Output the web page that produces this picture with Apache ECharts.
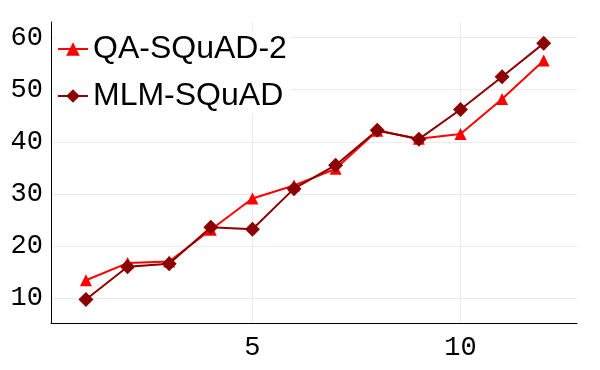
<!DOCTYPE html>
<html>
<head>
<meta charset="utf-8">
<script src="https://cdn.jsdelivr.net/npm/echarts@6/dist/echarts.min.js"></script>
<style>
  html, body { margin: 0; padding: 0; background: #fff; }
  #chart { width: 600px; height: 370px; }
</style>
</head>
<body>
<div id="chart"></div>
<script>
const steps = [1, 2, 3, 4, 5, 6, 7, 8, 9, 10, 11, 12]
const qaSquad2 = [13.4, 16.7, 17.0, 23.1, 29.1, 31.6, 34.8, 42.1, 40.6, 41.5, 48.2, 55.6]
const mlmSquad = [9.7, 16.0, 16.6, 23.6, 23.2, 31.0, 35.5, 42.2, 40.5, 46.2, 52.5, 58.9]
const xTicks = [5, 10]
const yTicks = [10, 20, 30, 40, 50, 60]

const myChart = echarts.init(document.getElementById('chart'))

const pairs = (ys) => steps.map((x, i) => [x, ys[i]])

const option = {
  animation: false,
  grid: {
    left: 51,
    right: 23,
    top: 22,
    bottom: 47
  },
  legend: {
    left: 55,
    top: 31,
    orient: 'vertical',
    itemWidth: 30,
    itemHeight: 17,
    itemGap: 15,
    backgroundColor: '#fff',
    padding: [2, 4, 2, 2],
    textStyle: {
      fontFamily: 'Liberation Sans',
      fontSize: 32,
      color: '#000'
    },
    data: ['QA-SQuAD-2', 'MLM-SQuAD']
  },
  xAxis: {
    type: 'value',
    min: 0.16,
    max: 12.8,
    axisLine: { show: true, lineStyle: { color: '#000', width: 1 } },
    axisTick: { show: false, customValues: xTicks },
    axisLabel: {
      customValues: xTicks,
      fontFamily: 'Liberation Mono',
      fontSize: 27,
      color: '#000',
      margin: 11
    },
    splitLine: { show: true, lineStyle: { color: '#ebebeb', width: 1 } }
  },
  yAxis: {
    type: 'value',
    min: 5.2,
    max: 63,
    axisLine: { show: true, lineStyle: { color: '#000', width: 1 } },
    axisTick: { show: false, customValues: yTicks },
    axisLabel: {
      customValues: yTicks,
      fontFamily: 'Liberation Mono',
      fontSize: 27,
      color: '#000',
      margin: 8
    },
    splitLine: { show: true, lineStyle: { color: '#ebebeb', width: 1 } }
  },
  series: [
    {
      name: 'QA-SQuAD-2',
      type: 'line',
      data: pairs(qaSquad2),
      symbol: 'triangle',
      symbolSize: 12,
      lineStyle: { color: '#ff0000', width: 2 },
      itemStyle: { color: '#ff0000' }
    },
    {
      name: 'MLM-SQuAD',
      type: 'line',
      data: pairs(mlmSquad),
      symbol: 'diamond',
      symbolSize: 15,
      lineStyle: { color: '#8b0000', width: 2 },
      itemStyle: { color: '#8b0000' }
    }
  ]
}
myChart.setOption(option)
</script>
</body>
</html>
